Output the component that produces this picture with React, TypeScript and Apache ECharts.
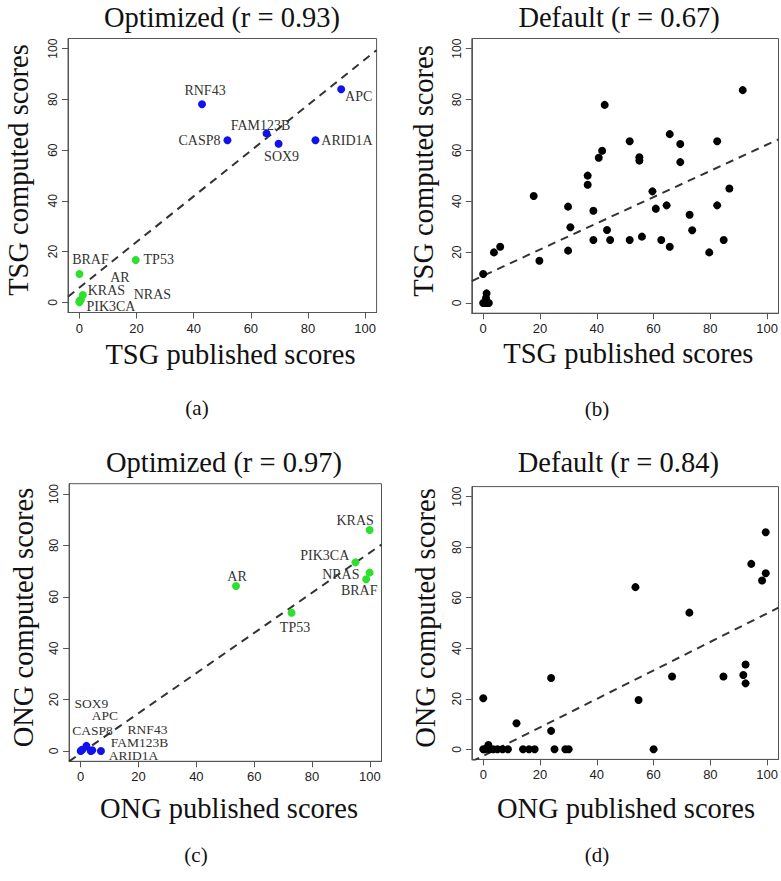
import React, { useEffect, useRef } from "react";
import * as echarts from "echarts";

// ---------- DATA ----------
const tickValues = [0, 20, 40, 60, 80, 100];
const panelTitles = ["Optimized (r = 0.93)", "Default (r = 0.67)", "Optimized (r = 0.97)", "Default (r = 0.84)"];
const xTitles = ["TSG published scores", "TSG published scores", "ONG published scores", "ONG published scores"];
const yTitles = ["TSG computed scores", "TSG computed scores", "ONG computed scores", "ONG computed scores"];
const subCaptions = ["(a)", "(b)", "(c)", "(d)"];

const tsgGenes = ["APC", "ARID1A", "CASP8", "FAM123B", "RNF43", "SOX9"];
const ongGenes = ["AR", "BRAF", "KRAS", "NRAS", "PIK3CA", "TP53"];

// (a) TSG optimized
const aTsgPublished = [91.6, 82.6, 51.8, 65.5, 42.9, 69.7];
const aTsgComputed = [84.0, 63.9, 63.9, 66.6, 78.1, 62.5];
const aOngPublished = [0.5, 0, 1.2, 0, 0, 19.7];
const aOngComputed = [1.0, 11.2, 2.9, 0.5, 0, 16.7];

// (b) TSG default
const bPublished = [0, 0.5, 1, 1.5, 2, 1, 1.2, 0, 3.8, 6.0, 17.8, 19.8, 29.9, 30.7, 29.9, 36.8, 36.8, 38.8, 38.8, 40.7, 41.9, 42.8, 43.6, 44.7, 51.6, 51.6, 55.0, 55.0, 55.9, 59.6, 60.8, 62.7, 64.6, 65.7, 65.7, 69.4, 69.4, 72.7, 73.6, 79.6, 82.4, 82.4, 84.7, 86.7, 91.4];
const bComputed = [0, 0, 0, 0, 0, 2, 3.8, 11.4, 19.9, 22.1, 42.1, 16.6, 37.9, 29.8, 20.6, 50.1, 46.5, 36.3, 24.8, 57.1, 59.9, 77.9, 28.7, 24.8, 63.6, 24.8, 57.3, 56.0, 26.1, 43.9, 37.1, 24.8, 38.4, 66.4, 22.1, 62.5, 55.4, 34.7, 28.6, 19.9, 63.6, 38.4, 24.8, 45.0, 83.7];

// (c) ONG optimized
const cTsgPublished = [2, 7, 0.5, 4, 3.5, 0];
const cTsgComputed = [2, 0, 0.5, 0.3, 0, 0];
const cOngPublished = [53.7, 98.7, 99.9, 99.9, 95.0, 72.9];
const cOngComputed = [64.2, 66.8, 86.0, 69.4, 73.4, 53.8];

// (d) ONG default
const dPublished = [0, 0, 0.6, 1.4, 1.8, 2.1, 3.5, 5.0, 6.8, 8.7, 11.7, 14.0, 16.1, 18.1, 23.9, 23.9, 25.1, 28.9, 30.1, 53.6, 54.7, 60.0, 66.5, 72.6, 84.6, 91.6, 92.4, 92.4, 94.4, 98.2, 99.5, 99.5];
const dComputed = [20.2, 0, 0, 0.5, 1.7, 0, 0, 0, 0, 0, 10.3, 0, 0, 0, 28.2, 7.3, 0, 0, 0, 64.2, 19.5, 0, 28.8, 54.1, 28.8, 29.4, 33.6, 26.1, 73.4, 66.8, 69.7, 85.9];

// fitted dashed lines (intercept, slope)
const fitIntercepts = [5.8, 10.7, -0.9, -2.6];
const fitSlopes = [0.9, 0.516, 0.781, 0.564];

// ---------- LAYOUT / STYLE ----------
const AX_MIN = -4;
const AX_MAX = 104;
const grids = [
  { left: 68, top: 38.5, width: 308.6, height: 274 },
  { left: 471.8, top: 38.5, width: 310.4, height: 274.7 },
  { left: 69.1, top: 483.7, width: 312.4, height: 277.6 },
  { left: 471.9, top: 486.6, width: 307.8, height: 272.8 },
];
const titlePos = [[222, 17.2], [619, 17.8], [224, 462], [618.3, 462]];
const xTitlePos = [[230.5, 354.5], [628.3, 353.5], [229, 808.8], [626, 808.5]];
const yTitlePos = [[18.8, 170], [423.8, 171], [23.8, 617.5], [425.5, 618]];
const capPos = [[197, 408], [597, 409], [196, 855], [597, 855]];

// label offsets (px) for the labelled panels
const aTsgOffsets = [[17.5, 7.3], [31.5, 0.7], [-28, 0.7], [-6, -8], [3, -14], [3, 12.3]];
const aOngOffsets = [[39, -22.5], [11, -14], [23.5, -4.3], [73, -6.7], [31.5, 3.7], [23, -0.7]];
const cTsgOffsets = [[18.5, -30.5], [32.5, 4.5], [10.4, -19], [47.2, -8], [56.7, -22], [10.6, -48]];
const cOngOffsets = [[1, -10], [-7, 11.3], [-14.5, -9.3], [-28.8, 2.3], [-30.7, -6.7], [3.5, 14.7]];

const SERIF = "'Liberation Serif', 'Times New Roman', serif";
const SANS = "'Liberation Sans', Arial, sans-serif";
const BLUE = "#1212ee";
const GREEN = "#2ee02e";
const BLACK = "#000000";
const FRAME = "#555555";

function labelled(names: string[], xs: number[], ys: number[], offs: number[][]) {
  return names.map((n, i) => ({
    name: n,
    value: [xs[i], ys[i]],
    label: { offset: offs[i] },
  }));
}

function pairs(xs: number[], ys: number[]) {
  return xs.map((x, i) => [x, ys[i]]);
}

export default function App() {
  const ref = useRef<HTMLDivElement>(null);
  useEffect(() => {
    if (!ref.current) return;
    const chart = echarts.init(ref.current, undefined, { renderer: "svg" });

    const xAxis = grids.map((_, i) => ({
      type: "value",
      gridIndex: i,
      min: AX_MIN,
      max: AX_MAX,
      axisLine: { show: true, onZero: false, lineStyle: { color: FRAME, width: 1 } },
      axisTick: { show: true, inside: false, length: 6, customValues: tickValues, lineStyle: { color: FRAME } },
      axisLabel: { customValues: tickValues, margin: 9, fontFamily: SANS, fontSize: 13, color: "#222" },
      splitLine: { show: false },
    }));
    const yAxis = grids.map((_, i) => ({
      type: "value",
      gridIndex: i,
      min: AX_MIN,
      max: AX_MAX,
      axisLine: { show: true, onZero: false, lineStyle: { color: FRAME, width: 1 } },
      axisTick: { show: true, inside: false, length: 6, customValues: tickValues, lineStyle: { color: FRAME } },
      axisLabel: { customValues: tickValues, rotate: 90, margin: 9, fontFamily: SANS, fontSize: 12, color: "#222" },
      splitLine: { show: false },
    }));

    const makeLabel = (size: number) => ({
      show: true,
      position: "inside",
      formatter: "{b}",
      fontFamily: SERIF,
      fontSize: size,
      lineHeight: 11,
      color: "#333",
      align: "center",
      verticalAlign: "middle",
    });

    const scatter = (idx: number, data: any[], color: string, labelSize: number) => ({
      type: "scatter",
      xAxisIndex: idx,
      yAxisIndex: idx,
      symbol: "circle",
      symbolSize: 8,
      itemStyle: { color, opacity: 1 },
      label: labelSize > 0 ? makeLabel(labelSize) : { show: false },
      data,
      z: 3,
      silent: true,
    });

    const fitLine = (idx: number) => ({
      type: "line",
      xAxisIndex: idx,
      yAxisIndex: idx,
      symbol: "none",
      clip: true,
      silent: true,
      lineStyle: { color: "#333", width: 2, type: [8, 6] },
      data: [
        [AX_MIN, fitIntercepts[idx] + fitSlopes[idx] * AX_MIN],
        [AX_MAX, fitIntercepts[idx] + fitSlopes[idx] * AX_MAX],
      ],
      z: 2,
    });

    const series = [
      fitLine(0),
      scatter(0, labelled(tsgGenes, aTsgPublished, aTsgComputed, aTsgOffsets), BLUE, 14),
      scatter(0, labelled(ongGenes, aOngPublished, aOngComputed, aOngOffsets), GREEN, 14),
      fitLine(1),
      scatter(1, pairs(bPublished, bComputed), BLACK, 0),
      fitLine(2),
      scatter(2, labelled(tsgGenes, cTsgPublished, cTsgComputed, cTsgOffsets), BLUE, 13.5),
      scatter(2, labelled(ongGenes, cOngPublished, cOngComputed, cOngOffsets), GREEN, 14),
      fitLine(3),
      scatter(3, pairs(dPublished, dComputed), BLACK, 0),
    ];

    const txt = (text: string, x: number, y: number, size: number, rot = 0) => ({
      type: "text",
      x,
      y,
      rotation: rot,
      silent: true,
      style: {
        text,
        fill: "#111",
        font: `${size}px ${SERIF}`,
        textAlign: "center",
        textVerticalAlign: "middle",
        align: "center",
        verticalAlign: "middle",
      },
    });

    const graphic: any[] = [];
    panelTitles.forEach((t, i) => graphic.push(txt(t, titlePos[i][0], titlePos[i][1], 28.5)));
    xTitles.forEach((t, i) => graphic.push(txt(t, xTitlePos[i][0], xTitlePos[i][1], 28.5)));
    yTitles.forEach((t, i) => graphic.push(txt(t, yTitlePos[i][0], yTitlePos[i][1], 28.5, Math.PI / 2)));
    subCaptions.forEach((t, i) => graphic.push(txt(t, capPos[i][0], capPos[i][1], 21)));

    chart.setOption({
      animation: false,
      backgroundColor: "#ffffff",
      grid: grids.map((g) => ({ ...g, show: true, borderColor: FRAME, borderWidth: 1, backgroundColor: "transparent", containLabel: false })),
      xAxis,
      yAxis,
      series,
      graphic,
    });
    return () => chart.dispose();
  }, []);

  return <div ref={ref} style={{ position: "absolute", left: 0, top: 0, width: 781, height: 881, background: "#fff" }} />;
}
